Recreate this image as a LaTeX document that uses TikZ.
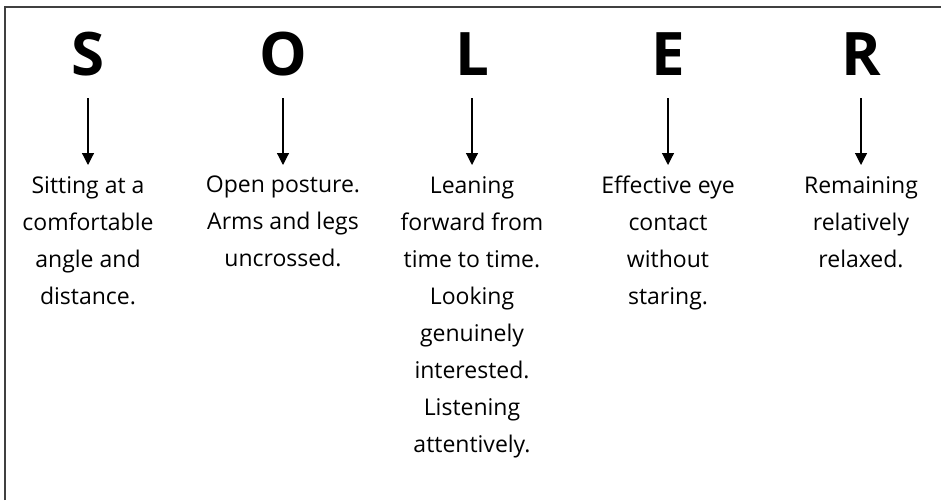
\documentclass[tikz,border=0pt]{standalone}
\usepackage{fontspec}
\setmainfont{Open Sans}
\usetikzlibrary{arrows.meta}

\tikzset{
  letter/.style={font=\fontsize{60}{62}\selectfont\bfseries, inner sep=0pt,
    text depth=0pt, anchor=base},
  desc/.style={font=\fontsize{23}{37}\selectfont, align=center, inner sep=0pt,
    anchor=north},
  arr/.style={-{Triangle[width=12pt,length=12pt]}, line width=1.2pt,
    shorten <=22pt, shorten >=11pt}
}

\begin{document}
\begin{tikzpicture}[x=1pt, y=-1pt]
      \useasboundingbox (0,0) rectangle (941,500);
      % Frame (runs off the page on the right and bottom)
      \draw[line width=1.6pt, black!75]
        (5,500) -- (5,7) -- (941,7);

      % Letters
      \node[letter] (s) at (88,76) {S};
      \node[letter] (o) at (283,76) {O};
      \node[letter] (l) at (472,76) {L};
      \node[letter] (e) at (668,76) {E};
      \node[letter] (r) at (861,76) {R};

      % Descriptions
      \node[desc] (ts) at (88,176) {Sitting at a\\comfortable\\angle and\\distance.};
      \node[desc] (to) at (283,176) {Open posture.\\Arms and legs\\uncrossed.};
      \node[desc] (tl) at (472,176) {Leaning\\forward from\\time to time.\\Looking\\genuinely\\interested.\\Listening\\attentively.};
      \node[desc] (te) at (668,176) {Effective eye\\contact\\without\\staring.};
      \node[desc] (tr) at (861,176) {Remaining\\relatively\\relaxed.};

      % Arrows
      \draw[arr] (s.south) -- (ts.north);
      \draw[arr] (o.south) -- (to.north);
      \draw[arr] (l.south) -- (tl.north);
      \draw[arr] (e.south) -- (te.north);
      \draw[arr] (r.south) -- (tr.north);
    \end{tikzpicture}
\end{document}
